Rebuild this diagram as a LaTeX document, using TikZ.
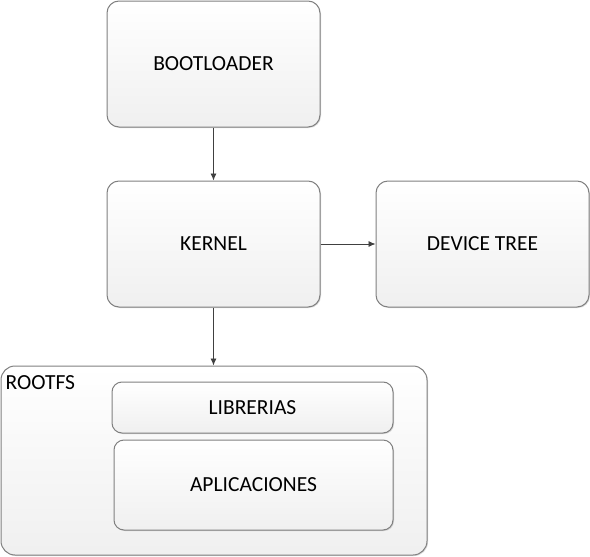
\documentclass[tikz,border=0pt]{standalone}
\usepackage{fontspec}
\setmainfont{Carlito}
\usetikzlibrary{positioning,arrows.meta,shadows}

\begin{document}
\begin{tikzpicture}[x=1pt, y=-1pt, node distance=53pt and 55pt,
    block/.style={rectangle, draw=black!50, line width=1pt, rounded corners=12pt,
      top color=white, bottom color=black!6, minimum width=213pt, minimum height=126pt,
      align=center, font=\fontsize{21.5}{25}\selectfont,
      drop shadow={shadow xshift=1pt, shadow yshift=-1pt, opacity=0.25, fill=black!60}},
    inner/.style={block, rounded corners=10pt},
    arrow/.style={-{Latex[length=7pt,width=6pt]}, draw=black!75, line width=0.8pt}]

\useasboundingbox (0,0) rectangle (590,557);

\node[block] (boot) at (213.5,64) {BOOTLOADER};
\node[block, below=of boot] (kernel) {KERNEL};
\node[block, right=of kernel] (dtree) {DEVICE TREE};

% rootfs with its two layers
\node[block, rounded corners=14pt, minimum width=426pt, minimum height=189pt] (rootfs) at (214,460.5) {};
\node[anchor=north west, inner sep=0pt, font=\fontsize{21.5}{25}\selectfont] (rootfslbl)
  at ([xshift=5pt, yshift=-10pt]rootfs.north west) {ROOTFS};
\node[inner, minimum width=281pt, minimum height=51pt] (libs) at (252.5,407.5) {LIBRERIAS};
\node[inner, minimum width=279pt, minimum height=90pt] (apps) at (253.5,485) {APLICACIONES};

\draw[arrow] (boot) -- (kernel);
\draw[arrow] (kernel) -- (dtree);
\draw[arrow] (kernel.south) -- (kernel.south |- rootfs.north);
\end{tikzpicture}
\end{document}
